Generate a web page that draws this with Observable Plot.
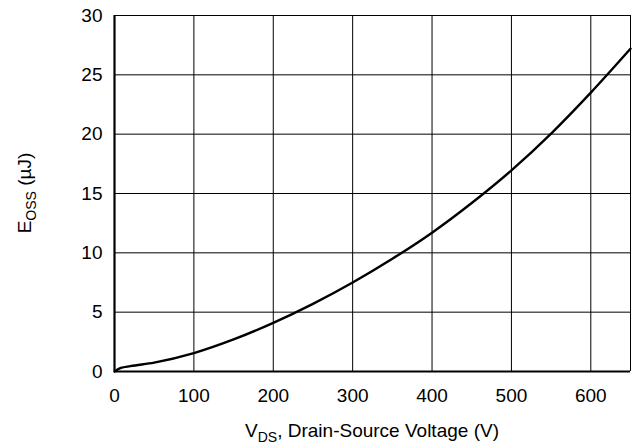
<!DOCTYPE html>
<html>
<head>
<meta charset="utf-8">
<script src="https://cdn.jsdelivr.net/npm/d3@7"></script>
<script src="https://cdn.jsdelivr.net/npm/@observablehq/plot@0.6"></script>
<style>
  html, body { margin: 0; padding: 0; background: #fff; }
  #chart svg { display: block; }
</style>
</head>
<body>
<div id="chart"></div>
<script>
// Drain-source voltage (V)
const vds = [0, 8, 20, 50, 100, 150, 200, 250, 300, 350, 400, 450, 500, 550, 600, 650];
// Eoss (µJ)
const eoss = [0, 0.3, 0.45, 0.75, 1.55, 2.7, 4.1, 5.7, 7.5, 9.5, 11.7, 14.2, 16.95, 20.05, 23.5, 27.2];
const xTicks = [0, 100, 200, 300, 400, 500, 600];
const yTicks = [0, 5, 10, 15, 20, 25, 30];
const xGrid = [100, 200, 300, 400, 500, 600];
const yGrid = [5, 10, 15, 20, 25];

const data = vds.map((v, i) => ({v, e: eoss[i]}));

const font = "'Liberation Sans', Arial, Helvetica, sans-serif";

const plot = Plot.plot({
  width: 637,
  height: 445,
  marginLeft: 114,
  marginRight: 7,
  marginTop: 15,
  marginBottom: 74,
  style: {fontFamily: font, fontSize: "19px", color: "#000", background: "#fff"},
  x: {domain: [0, 650]},
  y: {domain: [0, 30]},
  marks: [
    Plot.ruleX(xGrid, {stroke: "#000", strokeWidth: 1}),
    Plot.ruleY(yGrid, {stroke: "#000", strokeWidth: 1}),
    Plot.ruleY([30], {stroke: "#000", strokeWidth: 1}),
    Plot.ruleX([650], {stroke: "#000", strokeWidth: 1}),
    Plot.line(data, {x: "v", y: "e", stroke: "#000", strokeWidth: 2.4, curve: "monotone-x"}),
    Plot.ruleX([0], {stroke: "#000", strokeWidth: 2.2}),
    Plot.ruleY([0], {stroke: "#000", strokeWidth: 2.2}),
    Plot.axisX({ticks: xTicks, tickSize: 0, tickPadding: 14, dy: 3, label: null, fontSize: 19}),
    Plot.axisY({ticks: yTicks, tickSize: 0, tickPadding: 12, label: null, fontSize: 19})
  ]
});

document.getElementById("chart").appendChild(plot);

const svg = d3.select(plot);
const xs = plot.scale("x").range;
const ys = plot.scale("y").range;
const cx = (xs[0] + xs[1]) / 2;
const cy = (ys[0] + ys[1]) / 2;

const xt = svg.append("text")
  .attr("x", cx).attr("y", 437)
  .attr("text-anchor", "middle")
  .attr("font-family", font).attr("font-size", 19).attr("fill", "#000");
xt.append("tspan").text("V");
xt.append("tspan").attr("font-size", 14).attr("dy", 5).text("DS");
xt.append("tspan").attr("dy", -5).text(", Drain-Source Voltage (V)");

const yt = svg.append("text")
  .attr("transform", `translate(31,${cy}) rotate(-90)`)
  .attr("text-anchor", "middle")
  .attr("font-family", font).attr("font-size", 19).attr("fill", "#000");
yt.append("tspan").text("E");
yt.append("tspan").attr("font-size", 14).attr("dy", 5).text("OSS");
yt.append("tspan").attr("dy", -5).text(" (µJ)");
</script>
</body>
</html>
